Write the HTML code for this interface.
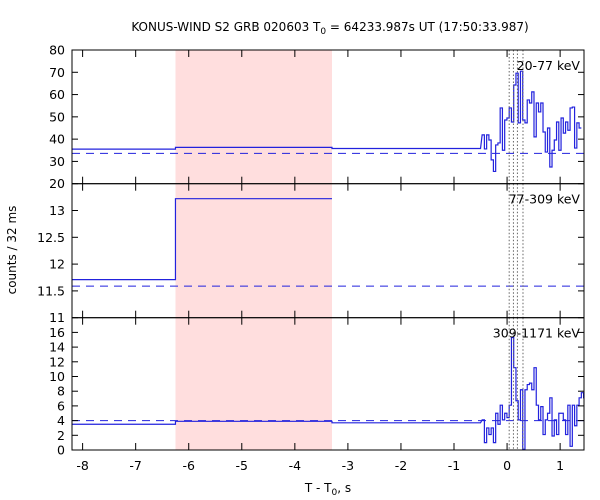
<!DOCTYPE html>
<html><head><meta charset="utf-8">
<style>
body{margin:0;background:#fff}
svg{display:block;font-family:"DejaVu Sans","Liberation Sans",sans-serif}
</style></head>
<body>
<svg id="chart" width="600" height="500" viewBox="0 0 600 500" xmlns="http://www.w3.org/2000/svg">
<text x="330" y="31" text-anchor="middle" font-size="12">KONUS-WIND S2 GRB 020603 T<tspan font-size="9" dy="3">0</tspan><tspan dy="-3"> = 64233.987s UT (17:50:33.987)</tspan></text>
<text transform="translate(16,250) rotate(-90)" text-anchor="middle" font-size="12">counts / 32 ms</text>
<text x="328" y="492" text-anchor="middle" font-size="12">T - T<tspan font-size="9" dy="3">0</tspan><tspan dy="-3">, s</tspan></text>
<g id="plots"></g>
</svg>
<script>
// data
const xTicks=[-8,-7,-6,-5,-4,-3,-2,-1,0,1];
const shadeRange=[-6.25,-3.3];
const dottedLines=[0.04,0.12,0.195,0.3];
const bandLabels=["20-77 keV","77-309 keV","309-1171 keV"];
const yTicks1=[20,30,40,50,60,70,80];
const yTicks2=[11,11.5,12,12.5,13];
const yTicks3=[0,2,4,6,8,10,12,14,16];
const bgLevels1=[35.5,36.3,35.8];
const bgLevels2=[11.71,13.22];
const bgLevels3=[3.5,3.9,3.7];
const bgEdges=[-8.2,-6.25,-3.3,-0.5];
const dashLevel=[33.6,11.59,4.0];
const fineStart=-0.47;
const fineBin=0.0425;
const fine1=[41.9,35.6,41.9,39.6,30.7,25.5,37.4,38.3,54,35,48.6,49.5,54,47.7,64.3,69.6,47.3,70.5,48.6,47.3,57.6,56.2,61.2,41,56.2,52.2,56.2,43.2,34.2,45,27.5,35,39.6,47.7,35,49.5,42.7,47.7,44,54,54.4,36,47.3,45];
const fine3=[4.1,1.0,3.0,2.1,3.0,1.0,5.0,3.5,6.1,4.1,5.0,4.4,6.1,15.3,11.2,6.7,4.1,8.2,0.1,8.2,8.9,9.1,8.2,11.2,6.1,4.1,5.9,2.1,4.1,5.0,7.1,1.9,4.1,2.1,5.0,5.0,4.1,2.1,6.1,0.5,6.1,3.3,6.1,7.1,7.8,7.1];

const X0=72,X1=584,T0=-8.2,T1=1.45;
const sx=t=>X0+(t-T0)/(T1-T0)*(X1-X0);
const panels=[
 {top:50,bot:183.7,min:20,max:80,ticks:yTicks1,bg:bgLevels1,fine:fine1,lab:bandLabels[0],dash:dashLevel[0]},
 {top:183.7,bot:317.7,min:11,max:13.5,ticks:yTicks2,bg:bgLevels2,fine:null,lab:bandLabels[1],dash:dashLevel[1]},
 {top:317.7,bot:450,min:0,max:18,ticks:yTicks3,bg:bgLevels3,fine:fine3,lab:bandLabels[2],dash:dashLevel[2]}
];
const NS="http://www.w3.org/2000/svg";
const g=document.getElementById('plots');
function mk(tag,attrs,parent){const e=document.createElementNS(NS,tag);for(const k in attrs)e.setAttribute(k,attrs[k]);(parent||g).appendChild(e);return e;}
const sh=mk('rect',{x:sx(shadeRange[0]),y:50,width:sx(shadeRange[1])-sx(shadeRange[0]),height:400,fill:'#ffdede'});


panels.forEach((p,i)=>{
 const sy=v=>p.bot-(v-p.min)/(p.max-p.min)*(p.bot-p.top);
 const dl=mk('line',{x1:X0,x2:X1,y1:sy(p.dash),y2:sy(p.dash),stroke:'#2222dd','stroke-width':1,'stroke-dasharray':'8,6'});
 
 
 let d='';
 p.bg.forEach((v,j)=>{const a=sx(bgEdges[j]),b=sx(bgEdges[j+1]);d+=(j?'L':'M')+a+','+sy(v)+'L'+b+','+sy(v);});
 if(p.fine){p.fine.forEach((v,j)=>{const a=sx(fineStart+j*fineBin),b=Math.min(X1,sx(fineStart+(j+1)*fineBin));d+='L'+a+','+sy(v)+'L'+b+','+sy(v);});}
 const pl=mk('path',{d:d,fill:'none',stroke:'#2222dd','stroke-width':1.2});
 
 
 dottedLines.forEach(t=>{const l=mk('line',{x1:sx(t),x2:sx(t),y1:p.top,y2:p.bot,stroke:'#666','stroke-width':1,'stroke-dasharray':'1.5,2'});
  
  });
 const fr=mk('rect',{x:X0,y:p.top,width:X1-X0,height:p.bot-p.top,fill:'none',stroke:'#000','stroke-width':1});
 
 
 p.ticks.forEach(v=>{const y=sy(v);
  mk('line',{x1:X0,x2:X0+6,y1:y,y2:y,stroke:'#000'});
  mk('line',{x1:X1,x2:X1-6,y1:y,y2:y,stroke:'#000'});
  const tx=mk('text',{x:X0-7,y:y+4.5,'text-anchor':'end','font-size':12.5});tx.textContent=v;
  
  });
 xTicks.forEach(t=>{const x=sx(t);
  mk('line',{x1:x,x2:x,y1:p.bot,y2:p.bot-7,stroke:'#000'});
  mk('line',{x1:x,x2:x,y1:p.top,y2:p.top+7,stroke:'#000'});});
 const lb=mk('text',{x:X1-4,y:p.top+20,'text-anchor':'end','font-size':12.5});lb.textContent=p.lab;
 
 
});
xTicks.forEach(t=>{const tx=mk('text',{x:sx(t),y:470,'text-anchor':'middle','font-size':12.5});tx.textContent=t;
 
 });
</script>
</body></html>
